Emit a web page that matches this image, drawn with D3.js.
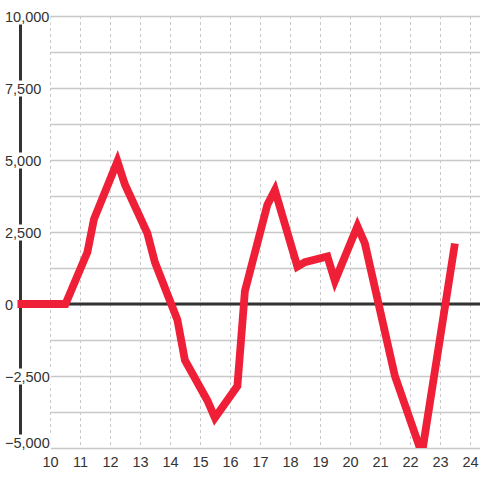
<!DOCTYPE html>
<html><head><meta charset="utf-8">
<script src="https://cdn.jsdelivr.net/npm/d3@7"></script>
<style>html,body{margin:0;padding:0;background:#fff;}svg{display:block;}</style>
</head><body>
<svg id="c" width="480" height="480"></svg>
<script>
const xValues = [8.9, 10.5, 11.23, 11.45, 12.23, 12.48, 13.23, 13.48, 14.23, 14.48, 15.23, 15.48, 16.23, 16.48, 17.23, 17.48, 18.23, 18.48, 19.23, 19.48, 20.23, 20.48, 21.48, 22.38, 23.48];
const yValues = [0, 0, 1800, 2950, 4950, 4150, 2450, 1450, -550, -1950, -3350, -3950, -2850, 450, 3450, 3950, 1300, 1450, 1650, 800, 2700, 2100, -2500, -5200, 2100];
const xTicks = [10,11,12,13,14,15,16,17,18,19,20,21,22,23,24];
const yTicks = [10000, 7500, 5000, 2500, 0, -2500, -5000];
const yGrid = [10000, 8750, 7500, 6250, 5000, 3750, 2500, 1250, 0, -1250, -2500, -3750, -5000];

const svg = d3.select("#c");
const x = d3.scaleLinear().domain([10, 24]).range([50.5, 470.5]);
const y = d3.scaleLinear().domain([-5000, 10000]).range([448, 16]);
const fmt = d3.format(",");

// horizontal grid
svg.append("g").selectAll("line").data(yGrid).join("line")
  .attr("x1", 50.5).attr("x2", 480)
  .attr("y1", d => Math.round(y(d)) + 0.5).attr("y2", d => Math.round(y(d)) + 0.5)
  .attr("stroke", "#c8c8c8").attr("stroke-width", 1.3);

// vertical dashed grid
svg.append("g").selectAll("line").data(xTicks).join("line")
  .attr("x1", d => x(d)).attr("x2", d => x(d))
  .attr("y1", 16).attr("y2", 448)
  .attr("stroke", "#c8c8c8").attr("stroke-width", 1).attr("stroke-dasharray", "3,3");

// y axis line
svg.append("line").attr("x1", 20.5).attr("x2", 20.5).attr("y1", 16).attr("y2", 448)
  .attr("stroke", "#333").attr("stroke-width", 3);

// zero line
svg.append("line").attr("x1", 20).attr("x2", 480).attr("y1", y(0)).attr("y2", y(0))
  .attr("stroke", "#333").attr("stroke-width", 3);

// y labels with white background
const yl = svg.append("g").selectAll("g").data(yTicks).join("g");
yl.each(function(d) {
  const g = d3.select(this);
  const t = g.append("text")
    .attr("x", 5).attr("y", Math.min(y(d) + 5.5, 447.5))
    .attr("font-family", "'Liberation Sans', Arial, sans-serif")
    .attr("font-size", "14.5px").attr("fill", "#333")
    .text(fmt(d));
  const bb = t.node().getBBox();
  g.insert("rect", "text").attr("x", bb.x - 1).attr("y", bb.y).attr("width", bb.width + 2).attr("height", bb.height).attr("fill", "#fff");
});

// x labels
svg.append("g").selectAll("text").data(xTicks).join("text")
  .attr("x", d => x(d)).attr("y", 466.5).attr("text-anchor", "middle")
  .attr("font-family", "'Liberation Sans', Arial, sans-serif")
  .attr("font-size", "14.5px").attr("fill", "#333")
  .text(d => d);

// clip for the line
svg.append("clipPath").attr("id", "clip").append("rect")
  .attr("x", 17).attr("y", 0).attr("width", 463).attr("height", 448);

const data = xValues.map((v, i) => [v, yValues[i]]);
svg.append("path").datum(data)
  .attr("clip-path", "url(#clip)")
  .attr("fill", "none").attr("stroke", "#ee1f36").attr("stroke-width", 7.8)
  .attr("stroke-linejoin", "miter")
  .attr("d", d3.line().x(d => x(d[0])).y(d => y(d[1])));
</script>
</body></html>
